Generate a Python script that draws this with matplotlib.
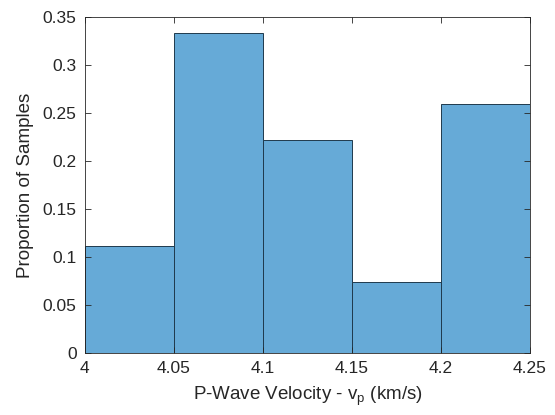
import matplotlib
matplotlib.use("Agg")
import matplotlib.pyplot as plt

plt.rcParams["font.family"] = ["Liberation Sans", "DejaVu Sans"]

# Bin edges and proportions (27 samples)
bin_edges = [4.0, 4.05, 4.1, 4.15, 4.2, 4.25]
proportions = [3 / 27, 9 / 27, 6 / 27, 2 / 27, 7 / 27]
x_ticks = [4.0, 4.05, 4.1, 4.15, 4.2, 4.25]
x_tick_labels = ["4", "4.05", "4.1", "4.15", "4.2", "4.25"]
y_ticks = [0, 0.05, 0.1, 0.15, 0.2, 0.25, 0.3, 0.35]
y_tick_labels = ["0", "0.05", "0.1", "0.15", "0.2", "0.25", "0.3", "0.35"]

fig = plt.figure(figsize=(5.55, 4.15), dpi=100)
ax = fig.add_axes([0.153, 0.149, 0.802, 0.810])

ax.hist(bin_edges[:-1], bins=bin_edges, weights=proportions,
        color="#66AAD7", edgecolor="#1f3a4d", linewidth=0.7)

ax.set_xlim(4.0, 4.25)
ax.set_ylim(0, 0.35)
ax.set_xticks(x_ticks)
ax.set_xticklabels(x_tick_labels)
ax.set_yticks(y_ticks)
ax.set_yticklabels(y_tick_labels)
ax.tick_params(direction="in", length=4, width=0.6, labelsize=12.5,
               colors="#262626", top=True, right=True, pad=6)
for s in ax.spines.values():
    s.set_color("#262626")
    s.set_linewidth(0.6)

ax.set_xlabel("P-Wave Velocity - v$_\\mathregular{p}$ (km/s)", fontsize=13.5,
              color="#262626", labelpad=6)
ax.set_ylabel("Proportion of Samples", fontsize=13.5, color="#262626", labelpad=6)

fig.savefig("out.png", dpi=100)
